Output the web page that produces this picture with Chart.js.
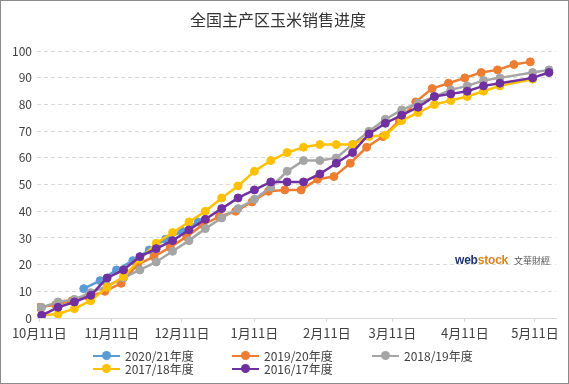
<!DOCTYPE html>
<html>
<head>
<meta charset="utf-8">
<script src="https://cdn.jsdelivr.net/npm/chart.js@4.4.0/dist/chart.umd.min.js"></script>
<style>
  html, body { margin: 0; padding: 0; background: #fff; }
  #wrap { position: relative; width: 569px; height: 384px; }
  #frame { position: absolute; left: 0; top: 0; width: 569px; height: 384px; box-sizing: border-box; border: 1px solid #8a8a8a; pointer-events: none; }
  #legend { position: absolute; left: 93px; top: 349px; display: grid; grid-template-columns: 139px 140px 140px; font: 12px "Noto Sans CJK SC", sans-serif; color: #404040; }
  .item { display: flex; align-items: center; height: 13px; white-space: nowrap; }
  .mark { position: relative; width: 27px; height: 9px; margin-right: 5px; }
  .mark .ln { position: absolute; left: 0; right: 0; top: 3.5px; height: 2.5px; }
  .mark .dot { position: absolute; left: 9px; top: 0; width: 9px; height: 9px; border-radius: 50%; }
  #logo { position: absolute; left: 455px; top: 252px; font-family: "Liberation Sans", sans-serif; white-space: nowrap; line-height: 14px; }
  #logo .w { font-size: 12px; font-weight: bold; color: #1d3569; letter-spacing: -0.2px; }
  #logo .s { font-size: 12px; font-weight: bold; color: #d9861f; letter-spacing: -0.2px; }
  #logo .c { font: 9px "Noto Sans CJK TC", sans-serif; color: #555; margin-left: 6px; }
</style>
</head>
<body>
<div id="wrap">
  <canvas id="chart" width="569" height="384"></canvas>
  <div id="logo"><span class="w">web</span><span class="s">stock</span><span class="c">文華財經</span></div>
  <div id="legend"></div>
  <div id="frame"></div>
</div>
<script>
Chart.defaults.font.family = '"Noto Sans CJK SC", "Liberation Sans", sans-serif';

// x axis: days counted from 10月11日
const tickDays = [0, 31, 61, 92, 123, 151, 182, 212];
const tickLabels = ['10月11日', '11月11日', '12月11日', '1月11日', '2月11日', '3月11日', '4月11日', '5月11日'];

const seasons = ['2020/21年度', '2019/20年度', '2018/19年度', '2017/18年度', '2016/17年度'];
const colors = ['#5b9bd5', '#ed7d31', '#a5a5a5', '#ffc000', '#7030a0'];
// day of the first weekly reading for each season
const startDays = [19, 0, 1, 1, 1];

// weekly sales progress (%)
const sales2021 = [11, 14, 18, 21.5, 25.5, 29.5, 32.5, 36];
const sales1920 = [4, 5, 6.5, 8, 10, 13, 20, 23, 26.5, 30.5, 35, 38, 40, 43.5, 47.5, 48, 48, 52, 53, 58,
                   64, 68, 74, 81, 86, 88, 90, 92, 93, 95, 96];
const sales1819 = [4, 6, 7, 9.5, 12, 15, 18, 21, 25, 29, 33.5, 37.5, 41, 44.5, 49, 55, 59, 59, 60, 65,
                   70, 74.5, 78, 80.5, 83, 85.5, 87, 89, 90, null, 92, 93];
const sales1718 = [1, 1.5, 3.5, 6.5, 11.5, 15.5, 22, 28, 32, 36, 40, 45, 49.5, 55, 59, 62, 64, 65, 65, 65,
                   68, 68.5, 74, 77, 80, 81.5, 83, 85, 87, null, 89.5];
const sales1617 = [1, 4, 6, 8.5, 15, 18, 23, 26, 29, 33, 37, 41, 45, 48, 51, 51, 51, 54, 58, 62,
                   69, 73, 76, 79, 83, 84, 85, 87, 88, null, 90, 92];

const allSales = [sales2021, sales1920, sales1819, sales1718, sales1617];

function toPoints(start, values) {
    return values.map((v, i) => ({ x: start + 7 * i, y: v }));
}

const datasets = seasons.map((name, i) => ({
    label: name,
    data: toPoints(startDays[i], allSales[i]),
    borderColor: colors[i],
    backgroundColor: colors[i],
    pointBackgroundColor: colors[i],
    pointBorderColor: colors[i],
    borderWidth: 2.5,
    pointRadius: 4,
    pointBorderWidth: 1,
    spanGaps: true,
    order: seasons.length - 1 - i  // later seasons drawn on top, like the original
}));

const chart = new Chart(document.getElementById('chart').getContext('2d'), {
    type: 'line',
    data: { datasets: datasets },
    options: {
        responsive: false,
        animation: false,
        layout: { padding: { left: 0, right: 13, top: 0, bottom: 36 } },
        plugins: {
            legend: { display: false },
            tooltip: { enabled: false },
            title: {
                display: true,
                text: '全国主产区玉米销售进度',
                color: '#333',
                font: { size: 16, weight: 'normal' },
                padding: { top: 10, bottom: 22 }
            }
        },
        scales: {
            x: {
                type: 'linear',
                min: -1,
                max: 221,
                afterBuildTicks: s => { s.ticks = tickDays.map(v => ({ value: v })); },
                afterFit: s => { s.height = 30; },
                ticks: {
                    autoSkip: false,
                    maxRotation: 0,
                    color: '#404040',
                    font: { size: 13 },
                    padding: 3,
                    callback: (v, i) => tickLabels[i]
                },
                grid: { display: true, drawOnChartArea: false, drawTicks: true, tickLength: 4, color: '#d9d9d9' },
                border: { color: '#d9d9d9' }
            },
            y: {
                min: 0,
                max: 100,
                afterFit: s => { s.width = 37; },
                ticks: { stepSize: 10, color: '#404040', font: { size: 12 }, padding: 5 },
                grid: { color: '#d9d9d9', drawTicks: false },
                border: { display: false, dash: [4, 3] }
            }
        }
    }
});

// legend laid out in three columns like the original
const legend = document.getElementById('legend');
seasons.forEach((name, i) => {
    const item = document.createElement('div');
    item.className = 'item';
    item.innerHTML = `<span class="mark"><span class="ln" style="background:${colors[i]}"></span>` +
        `<span class="dot" style="background:${colors[i]}"></span></span><span>${name}</span>`;
    legend.appendChild(item);
});
</script>
</body>
</html>
